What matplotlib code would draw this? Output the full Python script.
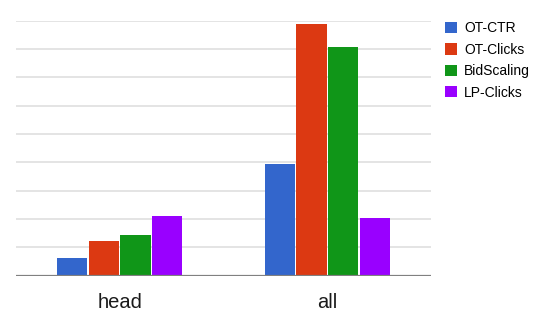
import matplotlib
matplotlib.use("Agg")
import matplotlib.pyplot as plt
import numpy as np

# data
categories = ["head", "all"]
series = ["OT-CTR", "OT-Clicks", "BidScaling", "LP-Clicks"]
ot_ctr = [0.61, 3.95]
ot_clicks = [1.24, 8.87]
bid_scaling = [1.44, 8.08]
lp_clicks = [2.10, 2.05]
values = [ot_ctr, ot_clicks, bid_scaling, lp_clicks]
colors = ["#3366cc", "#dc3912", "#109618", "#9900ff"]

plt.rcParams["font.family"] = ["Liberation Sans", "DejaVu Sans"]

fig = plt.figure(figsize=(5.36, 3.18), dpi=100)
ax = fig.add_axes([16 / 536, 1 - 275.7 / 318, (431 - 16) / 536, (275.7 - 20.7) / 318])

x = np.arange(len(categories))
width = 0.145
step = 0.152
for i, (name, vals, col) in enumerate(zip(series, values, colors)):
    ax.bar(x + (i - 1.5) * step, vals, width, color=col, label=name, zorder=2)

ax.set_xlim(-0.5, 1.5)
ax.set_ylim(0, 9)
ax.set_yticks(np.arange(0, 10, 1))
ax.yaxis.grid(True, color="#e2e2e2", linewidth=1.3, zorder=0)
ax.set_axisbelow(True)
ax.axhline(0, color="#808080", linewidth=1.6, zorder=3)

ax.set_xticks(x)
ax.set_xticklabels(categories, fontsize=14.5, color="#1a1a1a")
ax.tick_params(axis="x", length=0, pad=12.5)
ax.tick_params(axis="y", length=0, labelleft=False)
for s in ax.spines.values():
    s.set_visible(False)

fig.legend(loc="upper left", bbox_to_anchor=(445 / 536, 1 - 21.5 / 318),
           frameon=False, fontsize=10, handlelength=0.86, handleheight=0.86,
           handletextpad=0.5, labelspacing=0.53, borderpad=0, borderaxespad=0)

fig.savefig("out.png", dpi=100)
